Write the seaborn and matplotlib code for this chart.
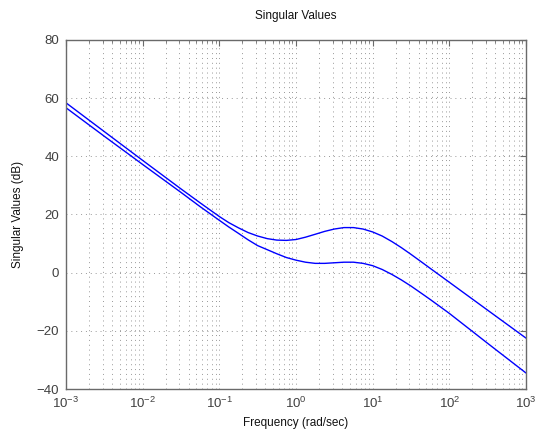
import numpy as np
import pandas as pd
import seaborn as sns
import matplotlib
matplotlib.use("Agg")
import matplotlib.pyplot as plt
from matplotlib.ticker import LogLocator, FixedLocator

# frequencies (rad/sec) and the two singular value curves (dB)
freq = [1e-3, 3.16e-3, 1e-2, 3.16e-2, 5.62e-2,
        0.1, 0.133, 0.178, 0.237, 0.316, 0.422, 0.562, 0.750,
        1.0, 1.33, 1.78, 2.37, 3.16, 4.22, 5.62, 7.50,
        10.0, 13.3, 17.8, 23.7, 31.6, 42.2, 56.2, 75.0,
        100.0, 316.0, 1000.0]
sv_upper = [58.4, 48.5, 38.6, 28.8, 24.0,
            19.3, 17.2, 15.4, 13.8, 12.6, 11.7, 11.2, 11.1,
            11.4, 12.2, 13.2, 14.2, 15.0, 15.5, 15.5, 15.0,
            14.0, 12.6, 10.7, 8.6, 6.3, 3.9, 1.5, -0.9,
            -3.3, -12.9, -22.5]
sv_lower = [56.7, 46.9, 37.2, 27.6, 22.7,
            18.0, 15.7, 13.5, 11.3, 9.3, 7.9, 6.5, 5.2,
            4.3, 3.6, 3.2, 3.2, 3.4, 3.6, 3.6, 3.2,
            2.4, 1.1, -0.6, -2.5, -4.6, -6.9, -9.2, -11.6,
            -14.0, -24.3, -34.5]

x_ticks = [1e-3, 1e-2, 1e-1, 1e0, 1e1, 1e2, 1e3]
y_ticks = [-40, -20, 0, 20, 40, 60, 80]

df = pd.DataFrame({
    "freq": freq * 2,
    "sv": sv_upper + sv_lower,
    "curve": ["upper"] * len(freq) + ["lower"] * len(freq),
})

sns.set_style("white")
plt.rcParams["font.family"] = ["Liberation Sans", "DejaVu Sans"]
plt.rcParams["mathtext.fontset"] = "custom"
plt.rcParams["mathtext.rm"] = "Liberation Sans"

fig = plt.figure(figsize=(5.4, 4.34), dpi=100)
ax = fig.add_axes([66 / 540, 1 - 389 / 434, 460 / 540, 349 / 434])

sns.lineplot(data=df, x="freq", y="sv", units="curve", estimator=None,
             color="#0000ff", linewidth=1.0, sort=False, ax=ax)

ax.set_xscale("log")
ax.set_xlim(1e-3, 1e3)
ax.set_ylim(-40, 80)
ax.xaxis.set_major_locator(FixedLocator(x_ticks))
ax.yaxis.set_major_locator(FixedLocator(y_ticks))
ax.xaxis.set_minor_locator(LogLocator(base=10, subs=np.arange(2, 10), numticks=20))

grid_kw = dict(color="#999999", linestyle=(0, (1, 4)), linewidth=0.7)
ax.grid(True, which="major", axis="both", **grid_kw)
ax.grid(True, which="minor", axis="x", **grid_kw)

for s in ax.spines.values():
    s.set_color("#6a6a6a")
    s.set_linewidth(1.0)

ax.tick_params(which="both", direction="in", top=True, right=True,
               colors="#6a6a6a", labelcolor="#404040", labelsize=9.5)
ax.tick_params(which="major", length=4, pad=5)
ax.tick_params(which="minor", length=2)

ax.set_title("Singular Values", fontsize=8.5, color="#111111", pad=15)
ax.set_xlabel("Frequency (rad/sec)", fontsize=8.5, color="#111111", labelpad=4)
ax.set_ylabel("Singular Values (dB)", fontsize=8.5, color="#111111", labelpad=9)

fig.savefig("out.png", dpi=100)
